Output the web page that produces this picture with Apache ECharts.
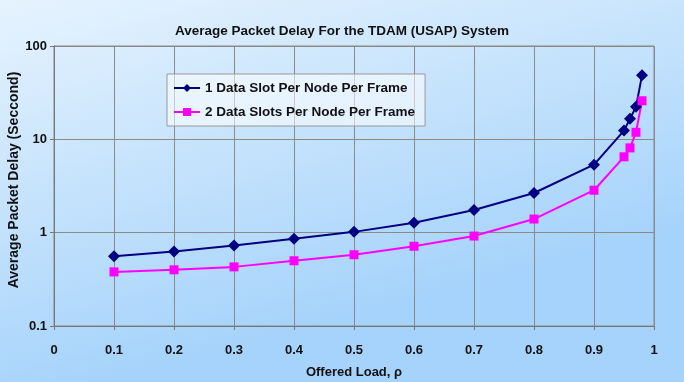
<!DOCTYPE html>
<html>
<head>
<meta charset="utf-8">
<script src="https://cdn.jsdelivr.net/npm/echarts@6/dist/echarts.min.js"></script>
<style>html,body{margin:0;padding:0;}#c{width:684px;height:382px;}</style>
</head>
<body>
<div id="c"></div>
<script>
const loads = [0.1, 0.2, 0.3, 0.4, 0.5, 0.6, 0.7, 0.8, 0.9, 0.95, 0.96, 0.97, 0.98];
const oneSlot = [0.56, 0.63, 0.73, 0.86, 1.02, 1.28, 1.75, 2.66, 5.35, 12.4, 16.6, 22.3, 48.5];
const twoSlots = [0.38, 0.40, 0.43, 0.50, 0.58, 0.715, 0.92, 1.40, 2.85, 6.5, 8.1, 11.9, 25.9];
const seriesNames = ['1 Data Slot Per Node Per Frame', '2 Data Slots Per Node Per Frame'];
const yTicks = [0.1, 1, 10, 100];

const chart = echarts.init(document.getElementById('c'));
const font = 'Liberation Sans, Arial, sans-serif';
function pairs(ys){ return loads.map((x,i)=>[x, ys[i]]); }
chart.setOption({
  animation: false,
  backgroundColor: {type:'linear', x:0, y:0, x2:0.15, y2:1,
    colorStops:[{offset:0,color:'#e6f3fe'},{offset:0.5,color:'#c6e3fc'},{offset:1,color:'#a6d3fb'}]},
  title: {text:'Average Packet Delay For the TDAM (USAP) System', left:'center', top:19,
    textStyle:{fontFamily:font, fontSize:13.5, fontWeight:'bold', color:'#111'}},
  grid: {left:54, right:30, top:46, bottom:56, show:true, borderColor:'#888', borderWidth:1,
    containLabel:false, outerBoundsMode:'none'},
  legend: {orient:'vertical', left:167, top:74, padding:[7,10,7,6], itemGap:10, itemWidth:26, itemHeight:10,
    backgroundColor:'rgba(255,255,255,0.55)', borderColor:'#999', borderWidth:1,
    textStyle:{fontFamily:font, fontSize:13.5, fontWeight:'bold', color:'#111'},
    data: seriesNames},
  xAxis: {type:'value', min:0, max:1, interval:0.1,
    name:'Offered Load, ρ', nameLocation:'middle', nameGap:40, nameMoveOverlap:false,
    nameTextStyle:{fontFamily:font, fontSize:13, fontWeight:'bold', color:'#111'},
    axisLine:{lineStyle:{color:'#777'}}, axisTick:{show:true, length:4, lineStyle:{color:'#777'}},
    axisLabel:{fontFamily:font, fontSize:13, fontWeight:'bold', color:'#111', margin:18,
      formatter:v=>String(Math.round(v*10)/10)},
    splitLine:{show:true, lineStyle:{color:'#8a8a8a', width:1}}},
  yAxis: {type:'log', logBase:10, min:yTicks[0], max:yTicks[yTicks.length-1],
    name:'Average Packet Delay (Seccond)', nameLocation:'middle', nameGap:33, nameMoveOverlap:false,
    nameTextStyle:{fontFamily:font, fontSize:14, fontWeight:'bold', color:'#111', padding:[0,0,0,12]},
    axisLine:{show:true, lineStyle:{color:'#777'}}, axisTick:{show:true, length:4, inside:false, lineStyle:{color:'#777'}},
    axisLabel:{fontFamily:font, fontSize:13, fontWeight:'bold', color:'#111', margin:7,
      formatter:v=>String(v)},
    splitLine:{show:true, lineStyle:{color:'#8a8a8a', width:1}}},
  series: [
    {name:seriesNames[0], type:'line', data:pairs(oneSlot), symbol:'diamond', symbolSize:12,
      lineStyle:{color:'#000080', width:2}, itemStyle:{color:'#000080'}},
    {name:seriesNames[1], type:'line', data:pairs(twoSlots), symbol:'rect', symbolSize:9,
      lineStyle:{color:'#ff00ff', width:2}, itemStyle:{color:'#ff00ff'}}
  ]
});
</script>
</body>
</html>
